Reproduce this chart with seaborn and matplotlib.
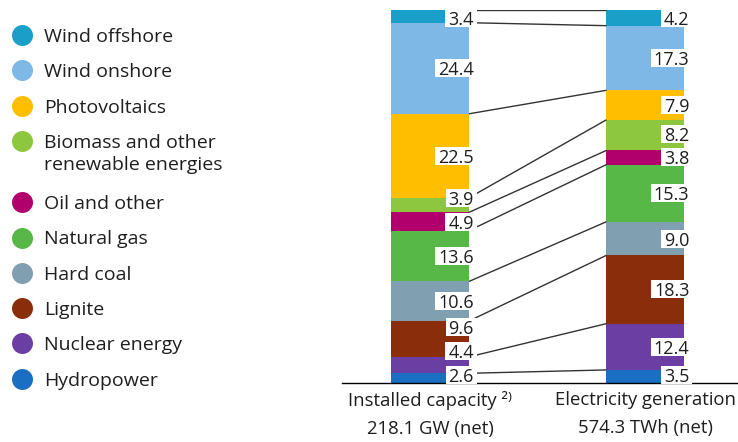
import numpy as np
import pandas as pd
import matplotlib
matplotlib.use("Agg")
import matplotlib.pyplot as plt
from matplotlib.patches import Rectangle
import seaborn as sns

# Energy sources, listed from the top of each stack to the bottom
sources = [
    "Wind offshore",
    "Wind onshore",
    "Photovoltaics",
    "Biomass and other\nrenewable energies",
    "Oil and other",
    "Natural gas",
    "Hard coal",
    "Lignite",
    "Nuclear energy",
    "Hydropower",
]
# Shares in percent
capacity_share = [3.4, 24.4, 22.5, 3.9, 4.9, 13.6, 10.6, 9.6, 4.4, 2.6]
generation_share = [4.2, 17.3, 7.9, 8.2, 3.8, 15.3, 9.0, 18.3, 12.4, 3.5]
measures = [
    "Installed capacity \u00b2\u207e\n218.1 GW (net)",
    "Electricity generation\n574.3 TWh (net)",
]

palette = ["#1a9fc9", "#7db8e6", "#ffbf00", "#8dc63f", "#b1006c",
           "#58b847", "#809fb0", "#8a2d0b", "#6a3ea2", "#1b6fc2"]

sns.set_theme(style="white")
plt.rcParams["font.family"] = ["Open Sans", "DejaVu Sans"]
TEXT = "#1e1e1e"

W, H = 738, 442
fig = plt.figure(figsize=(W / 100, H / 100), dpi=100)
ax = fig.add_axes([342 / W, 59 / H, 395 / W, 373 / H])

# long table with the top/bottom of every stacked segment
records = []
for m, shares in zip(measures, [capacity_share, generation_share]):
    shares = np.array(shares)
    tops = np.cumsum(shares[::-1])[::-1]
    for s, v, t in zip(sources, shares, tops):
        records.append(dict(measure=m, source=s, share=v, top=t, bottom=t - v))
df = pd.DataFrame(records)

bar_w = 0.362
# stacked bars: draw cumulative heights, tallest first, each one overlaying the last
for s, c in zip(sources, palette):
    sns.barplot(data=df[df.source == s], x="measure", y="top", order=measures,
                color=c, saturation=1, width=bar_w, errorbar=None,
                linewidth=0, ax=ax)

ymax = df.top.max()
ax.set_xlim(-0.408, 1.4246)
ax.set_ylim(0, ymax)
ax.set_xlabel("")
ax.set_ylabel("")
ax.set_yticks([])
for side in ["left", "top", "right"]:
    ax.spines[side].set_visible(False)
ax.spines["bottom"].set_color("black")
ax.spines["bottom"].set_linewidth(1.0)
ax.tick_params(axis="x", length=0, pad=6, labelsize=13.3, labelcolor=TEXT)
for lbl in ax.get_xticklabels():
    lbl.set_linespacing(1.7)

# connectors between matching segment boundaries of the two bars
left_tops = df[df.measure == measures[0]].top.values
right_tops = df[df.measure == measures[1]].top.values
for yl, yr in zip(left_tops, right_tops):
    ax.plot([bar_w / 2, 1 - bar_w / 2], [yl, yr], color="#333333",
            lw=1.0, zorder=3, solid_capstyle="butt")


def spread(centers, lo, hi, gap):
    """Push label positions apart (given bottom-up) so they keep a minimum gap."""
    y = list(centers)
    y[0] = max(y[0], lo)
    for i in range(1, len(y)):
        y[i] = max(y[i], y[i - 1] + gap)
    y[-1] = min(y[-1], hi)
    for i in range(len(y) - 2, -1, -1):
        y[i] = min(y[i], y[i + 1] - gap)
    return y


texts = []
for j, m in enumerate(measures):
    sub = df[df.measure == m].iloc[::-1]
    centers = ((sub.top + sub.bottom) / 2).values
    ys = spread(centers, 2.1, ymax - 2.1, 6.4)
    for v, y in zip(sub.share.values, ys):
        t = ax.annotate(f"{v:.1f}", xy=(j + bar_w / 2, y), xytext=(3.6, 0),
                        textcoords="offset points", ha="right",
                        va="center_baseline", fontsize=13, color=TEXT,
                        zorder=5, annotation_clip=False)
        texts.append((t, j + bar_w / 2, y))

# white boxes behind the value labels
fig.canvas.draw()
renderer = fig.canvas.get_renderer()
inv = ax.transData.inverted()
for t, x, y in texts:
    bb = t.get_window_extent(renderer)
    _, yc = ax.transData.transform((x, y))
    (x0, y0) = inv.transform((bb.x0 - 3, yc - 9))
    (x1, y1) = inv.transform((bb.x1 + 3, yc + 9))
    ax.add_patch(Rectangle((x0, y0), x1 - x0, y1 - y0, facecolor="white",
                           edgecolor="none", zorder=4, clip_on=False))

# legend with round markers; wrapped names continue on a second line
leg = fig.add_axes([0, 0, 1, 1], zorder=-1)
leg.set_xlim(0, W)
leg.set_ylim(H, 0)
leg.axis("off")
y = 35
for s, c in zip(sources, palette):
    leg.scatter([21.5], [y], s=228, color=c, linewidths=0)
    for k, line in enumerate(s.split("\n")):
        leg.text(44, y + 22.5 * k, line, va="center_baseline", ha="left",
                 fontsize=14, color=TEXT)
    y += 35.3 + 26 * s.count("\n")

fig.savefig("out.png", dpi=100)
